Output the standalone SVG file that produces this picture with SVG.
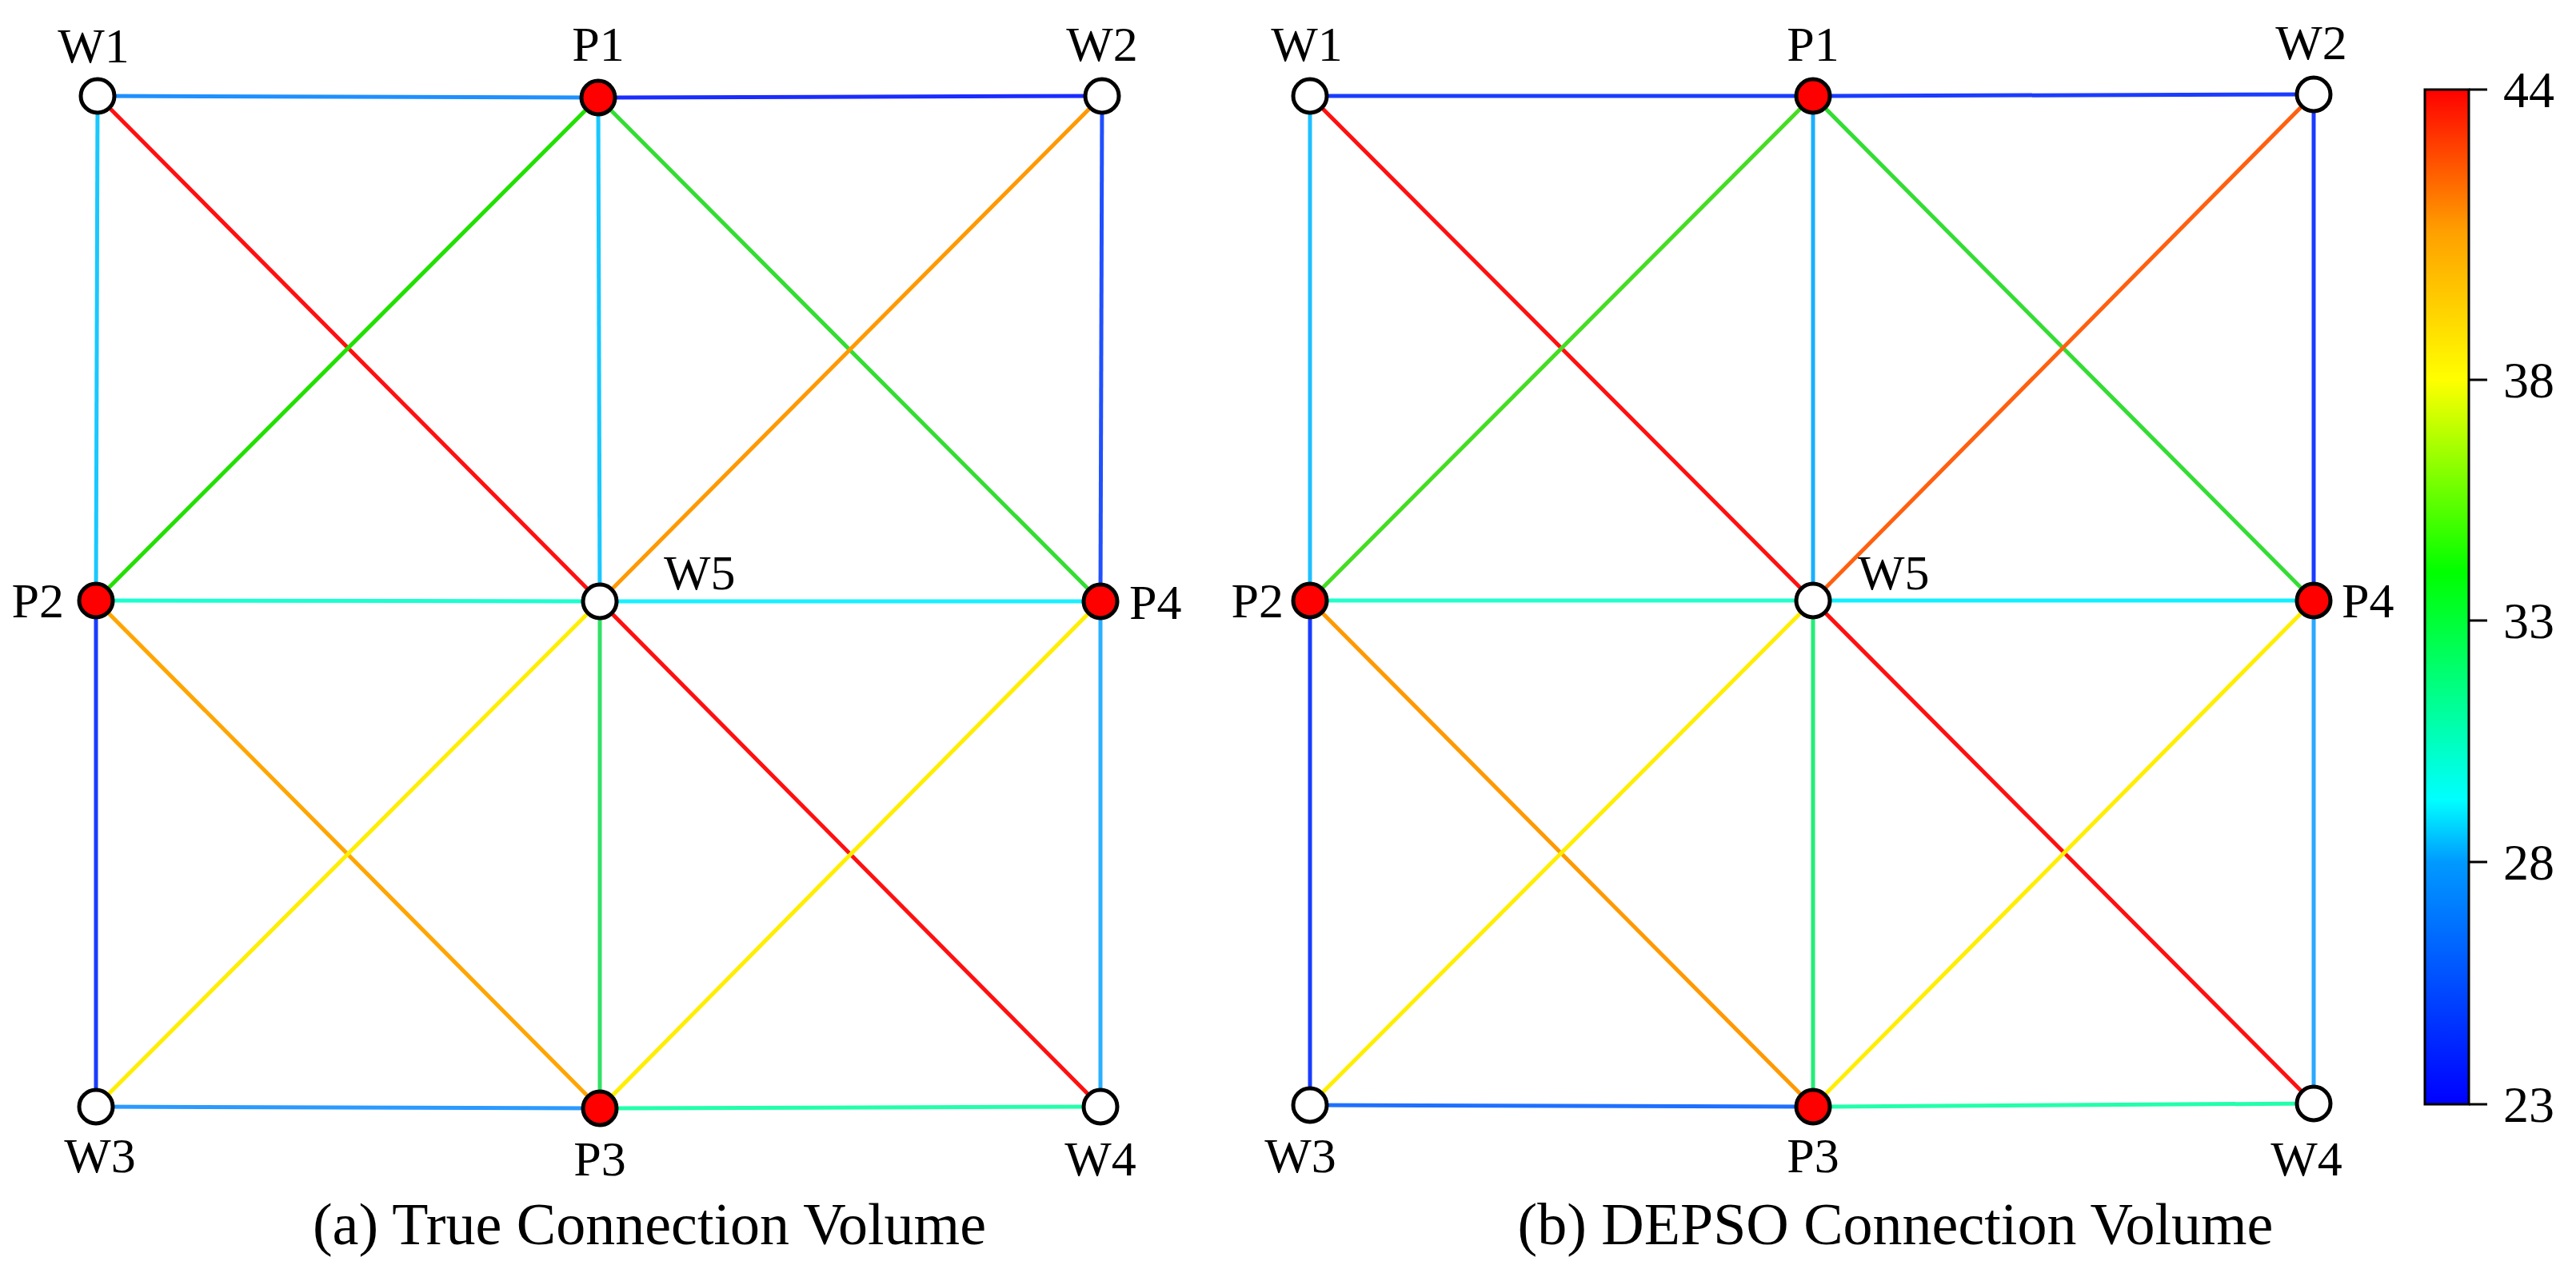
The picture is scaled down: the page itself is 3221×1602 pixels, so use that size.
<svg xmlns="http://www.w3.org/2000/svg" width="3221" height="1602" viewBox="0 0 3221 1602">
<style>
.e{stroke-width:5;fill:none}
.w{fill:#fff;stroke:#000;stroke-width:5}
.p{fill:#ff0000;stroke:#000;stroke-width:5}
text{font-family:"Liberation Serif","Times New Roman",serif;font-size:62px;fill:#000}
.cap{font-size:74px}
.tk{font-size:64px}
</style>
<defs>
<linearGradient id="cb" x1="0" y1="1" x2="0" y2="0">
<stop offset="0" stop-color="#0000ff"/>
<stop offset="0.238" stop-color="#0099ff"/>
<stop offset="0.3" stop-color="#00ffff"/>
<stop offset="0.524" stop-color="#00ff00"/>
<stop offset="0.714" stop-color="#ffff00"/>
<stop offset="0.86" stop-color="#ffa000"/>
<stop offset="1" stop-color="#ff0000"/>
</linearGradient>
</defs>
<rect width="3221" height="1602" fill="#fff"/>
<g id="connectors">
<g id="conn-a">
<line class="e" x1="122" y1="120" x2="748" y2="122" stroke="#1e90ff"/>
<line class="e" x1="748" y1="122" x2="1378" y2="120" stroke="#1a2cff"/>
<line class="e" x1="122" y1="120" x2="120" y2="751" stroke="#19c8ff"/>
<line class="e" x1="122" y1="120" x2="750" y2="752" stroke="#ff1010"/>
<line class="e" x1="748" y1="122" x2="120" y2="751" stroke="#22e000"/>
<line class="e" x1="748" y1="122" x2="750" y2="752" stroke="#19c8ff"/>
<line class="e" x1="748" y1="122" x2="1376" y2="752" stroke="#33dd33"/>
<line class="e" x1="1378" y1="120" x2="750" y2="752" stroke="#ff9900"/>
<line class="e" x1="1378" y1="120" x2="1376" y2="752" stroke="#2050ff"/>
<line class="e" x1="120" y1="751" x2="750" y2="752" stroke="#19ffd0"/>
<line class="e" x1="750" y1="752" x2="1376" y2="752" stroke="#19f0ff"/>
<line class="e" x1="120" y1="751" x2="120" y2="1384" stroke="#1a3cff"/>
<line class="e" x1="120" y1="751" x2="750" y2="1386" stroke="#ffa500"/>
<line class="e" x1="750" y1="752" x2="120" y2="1384" stroke="#ffee00"/>
<line class="e" x1="750" y1="752" x2="750" y2="1386" stroke="#33e066"/>
<line class="e" x1="750" y1="752" x2="1376" y2="1384" stroke="#ff1010"/>
<line class="e" x1="1376" y1="752" x2="750" y2="1386" stroke="#ffee00"/>
<line class="e" x1="1376" y1="752" x2="1376" y2="1384" stroke="#2ab0ff"/>
<line class="e" x1="120" y1="1384" x2="750" y2="1386" stroke="#2a9aff"/>
<line class="e" x1="750" y1="1386" x2="1376" y2="1384" stroke="#22ffaa"/>
</g>
<g id="conn-b">
<line class="e" x1="1638" y1="120" x2="2267" y2="120" stroke="#1a3cff"/>
<line class="e" x1="2267" y1="120" x2="2893" y2="118" stroke="#1a3cff"/>
<line class="e" x1="1638" y1="120" x2="1638" y2="751" stroke="#1ec0ff"/>
<line class="e" x1="1638" y1="120" x2="2267" y2="751" stroke="#ff1010"/>
<line class="e" x1="2267" y1="120" x2="1638" y2="751" stroke="#44dd22"/>
<line class="e" x1="2267" y1="120" x2="2267" y2="751" stroke="#1ab0ff"/>
<line class="e" x1="2267" y1="120" x2="2893" y2="751" stroke="#33dd33"/>
<line class="e" x1="2893" y1="118" x2="2267" y2="751" stroke="#ff6010"/>
<line class="e" x1="2893" y1="118" x2="2893" y2="751" stroke="#1a3cff"/>
<line class="e" x1="1638" y1="751" x2="2267" y2="751" stroke="#22ffcc"/>
<line class="e" x1="2267" y1="751" x2="2893" y2="751" stroke="#11f0ff"/>
<line class="e" x1="1638" y1="751" x2="1638" y2="1382" stroke="#1a3cff"/>
<line class="e" x1="1638" y1="751" x2="2267" y2="1384" stroke="#ff9900"/>
<line class="e" x1="2267" y1="751" x2="1638" y2="1382" stroke="#ffee00"/>
<line class="e" x1="2267" y1="751" x2="2267" y2="1384" stroke="#22ee77"/>
<line class="e" x1="2267" y1="751" x2="2893" y2="1380" stroke="#ff1010"/>
<line class="e" x1="2893" y1="751" x2="2267" y2="1384" stroke="#ffee00"/>
<line class="e" x1="2893" y1="751" x2="2893" y2="1380" stroke="#2aa8ff"/>
<line class="e" x1="1638" y1="1382" x2="2267" y2="1384" stroke="#1e70ff"/>
<line class="e" x1="2267" y1="1384" x2="2893" y2="1380" stroke="#22ffaa"/>
</g>
</g>
<g id="a-W1"><circle class="w" cx="122" cy="120" r="21"/><text x="117" y="78" text-anchor="middle">W1</text></g>
<g id="a-P1"><circle class="p" cx="748" cy="122" r="21"/><text x="748" y="76" text-anchor="middle">P1</text></g>
<g id="a-W2"><circle class="w" cx="1378" cy="120" r="21"/><text x="1378" y="76" text-anchor="middle">W2</text></g>
<g id="a-P2"><circle class="p" cx="120" cy="751" r="21"/><text x="80" y="772" text-anchor="end">P2</text></g>
<g id="a-W5"><circle class="w" cx="750" cy="752" r="21"/><text x="830" y="737">W5</text></g>
<g id="a-P4"><circle class="p" cx="1376" cy="752" r="21"/><text x="1412" y="774">P4</text></g>
<g id="a-W3"><circle class="w" cx="120" cy="1384" r="21"/><text x="125" y="1466" text-anchor="middle">W3</text></g>
<g id="a-P3"><circle class="p" cx="750" cy="1386" r="21"/><text x="750" y="1470" text-anchor="middle">P3</text></g>
<g id="a-W4"><circle class="w" cx="1376" cy="1384" r="21"/><text x="1376" y="1470" text-anchor="middle">W4</text></g>
<text class="cap" x="812" y="1556" text-anchor="middle">(a) True Connection Volume</text>
<g id="b-W1"><circle class="w" cx="1638" cy="120" r="21"/><text x="1634" y="76" text-anchor="middle">W1</text></g>
<g id="b-P1"><circle class="p" cx="2267" cy="120" r="21"/><text x="2267" y="76" text-anchor="middle">P1</text></g>
<g id="b-W2"><circle class="w" cx="2893" cy="118" r="21"/><text x="2890" y="74" text-anchor="middle">W2</text></g>
<g id="b-P2"><circle class="p" cx="1638" cy="751" r="21"/><text x="1605" y="772" text-anchor="end">P2</text></g>
<g id="b-W5"><circle class="w" cx="2267" cy="751" r="21"/><text x="2323" y="737">W5</text></g>
<g id="b-P4"><circle class="p" cx="2893" cy="751" r="21"/><text x="2928" y="772">P4</text></g>
<g id="b-W3"><circle class="w" cx="1638" cy="1382" r="21"/><text x="1626" y="1466" text-anchor="middle">W3</text></g>
<g id="b-P3"><circle class="p" cx="2267" cy="1384" r="21"/><text x="2267" y="1466" text-anchor="middle">P3</text></g>
<g id="b-W4"><circle class="w" cx="2893" cy="1380" r="21"/><text x="2884" y="1470" text-anchor="middle">W4</text></g>
<text class="cap" x="2370" y="1556" text-anchor="middle">(b) DEPSO Connection Volume</text>
<g id="colorbar">
<rect x="3032" y="112" width="55" height="1269" fill="url(#cb)" stroke="#000" stroke-width="3"/>
<g stroke="#000" stroke-width="3">
<line x1="3087" y1="112" x2="3110" y2="112"/>
<line x1="3087" y1="475" x2="3110" y2="475"/>
<line x1="3087" y1="776" x2="3110" y2="776"/>
<line x1="3087" y1="1078" x2="3110" y2="1078"/>
<line x1="3087" y1="1381" x2="3110" y2="1381"/>
</g>
<text class="tk" x="3130" y="134">44</text>
<text class="tk" x="3130" y="497">38</text>
<text class="tk" x="3130" y="798">33</text>
<text class="tk" x="3130" y="1100">28</text>
<text class="tk" x="3130" y="1403">23</text>
</g>
</svg>
